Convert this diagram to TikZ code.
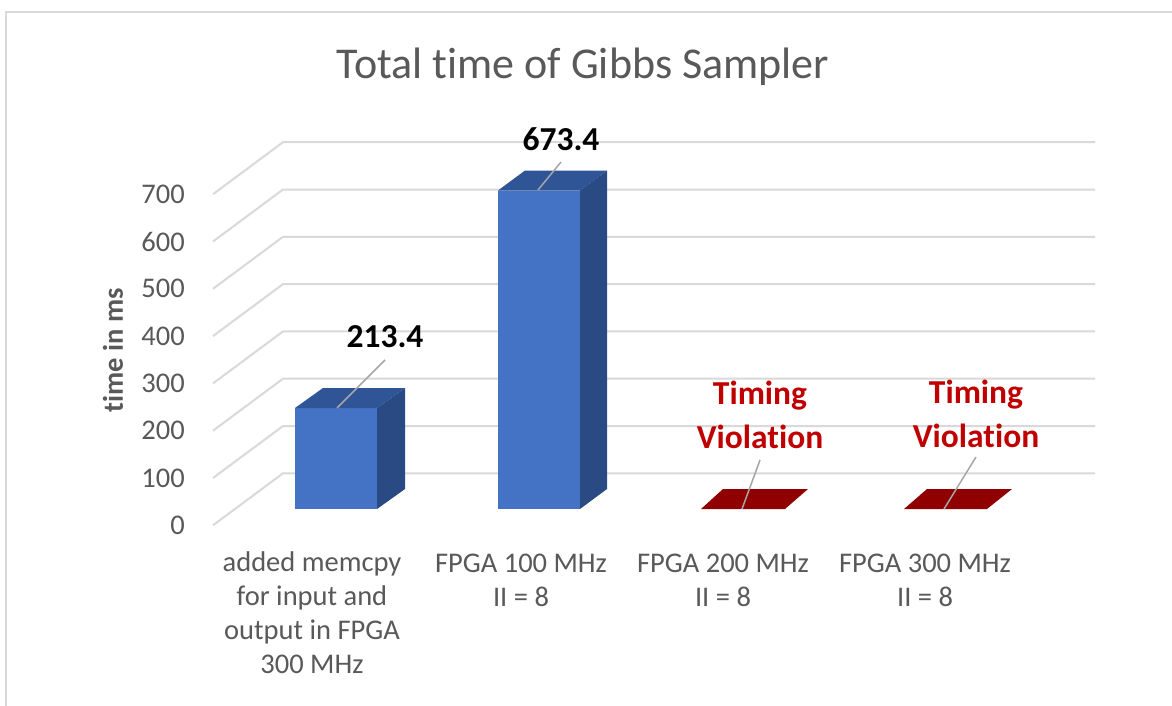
\documentclass[tikz,border=0pt]{standalone}
\usepackage{fontspec}
\setmainfont{Carlito}[Ligatures=TeX]
% keep "t" and "i" as separate glyphs
\newcommand{\tsep}{t\kern0pt{}}
\definecolor{gridgray}{HTML}{D9D9D9}
\definecolor{leadergray}{HTML}{A6A6A6}
\definecolor{txtgray}{HTML}{595959}
\definecolor{barfront}{HTML}{4472C4}
\definecolor{bartop}{HTML}{2F5597}
\definecolor{barside}{HTML}{294A82}
\definecolor{flatred}{HTML}{910000}
\definecolor{warnred}{HTML}{C00000}
% 3-D column: front-left x, front-right x, top y, depth dx, depth dy (floor at y=509)
\newcommand{\drawcolumn}[5]{%
  \fill[barfront] (#1,509) rectangle (#2,#3);
  \fill[bartop] (#1,#3) -- (#2,#3) -- (#2+#4,#3-#5) -- (#1+#4,#3-#5) -- cycle;
  \fill[barside] (#2,509) -- (#2,#3) -- (#2+#4,#3-#5) -- (#2+#4,509-#5) -- cycle;
}
\begin{document}
\begin{tikzpicture}[x=1pt,y=-1pt,
  frame/.style={draw=gridgray,line width=2pt},
  grid/.style={draw=gridgray,line width=2pt},
  leader/.style={draw=leadergray,line width=1.5pt},
  ticklbl/.style={text=txtgray,font=\fontsize{28.5}{34}\selectfont,inner sep=0pt},
  catlbl/.style={text=txtgray,font=\fontsize{28.5}{34}\selectfont,inner sep=0pt,align=center,anchor=north},
  datalbl/.style={text=black,font=\bfseries\fontsize{33.5}{44}\selectfont,inner sep=0pt},
  warnlbl/.style={text=warnred,font=\bfseries\fontsize{33.5}{44}\selectfont,inner sep=0pt,align=center}]
\useasboundingbox (0,0) rectangle (1172,706);
\fill[white] (0,0) rectangle (1172,706);
\draw[frame] (6,708) -- (6,12) -- (1174,12);

% title and axis title
\node[text=txtgray,font=\fontsize{44}{52}\selectfont,inner sep=0pt] (title) at (583,67) {Total \tsep ime of Gibbs Sampler};
\node[text=txtgray,font=\bfseries\fontsize{28.5}{32}\selectfont,inner sep=0pt,rotate=90] (ytitle) at (113,350) {\tsep ime in ms};

% gridlines with side walls, and tick labels
\foreach \v in {0,...,7} {
  \pgfmathsetmacro\yb{473.3-47.3*\v}
  \pgfmathtruncatemacro\val{100*\v}
  \draw[grid] (213,\yb+52) -- (283,\yb) -- (1095,\yb);
  \node[ticklbl,anchor=east] (tick\v) at (185,\yb+52) {\val};
}

% columns
\drawcolumn{295}{377}{408}{28}{20}
\drawcolumn{498}{580}{190.5}{27}{20}
\fill[flatred] (701,509) -- (785,509) -- (808,489) -- (723,489) -- cycle;
\fill[flatred] (904,509) -- (987,509) -- (1012,489) -- (927,489) -- cycle;

% data labels
\node[datalbl] (v1) at (385,337) {213.4};
\node[datalbl] (v2) at (561,139) {673.4};
\node[warnlbl] (v3) at (760,415) {T\kern0pt{}iming\\Viola\tsep ion};
\node[warnlbl] (v4) at (976,414) {T\kern0pt{}iming\\Viola\tsep ion};

\coordinate (p1) at (337,408);  \coordinate (q1) at (385,360);
\coordinate (p2) at (538,190);  \coordinate (q2) at (561,162);
\coordinate (p3) at (742,509);  \coordinate (q3) at (760,460);
\coordinate (p4) at (944,509);  \coordinate (q4) at (976,457);
\foreach \i in {1,...,4} { \draw[leader] (p\i) -- (q\i); }

% category labels
\node[catlbl] (c1) at (312,552) {added memcpy\\for input and\\output in FPGA\\300 MHz};
\node[catlbl] (c2) at (521,554) {FPGA 100 MHz\\II = 8};
\node[catlbl] (c3) at (723,554) {FPGA 200 MHz\\II = 8};
\node[catlbl] (c4) at (925,554) {FPGA 300 MHz\\II = 8};
\end{tikzpicture}
\end{document}
